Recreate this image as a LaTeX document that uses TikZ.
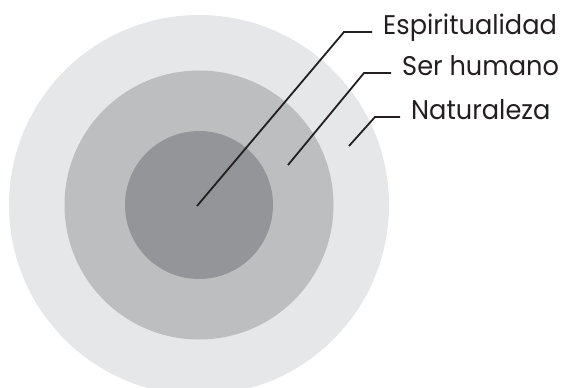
\documentclass[tikz,border=0pt]{standalone}
\usepackage{fontspec}
\setmainfont{Poppins}
\definecolor{anillo1}{HTML}{E6E7E8}
\definecolor{anillo2}{HTML}{BCBEC0}
\definecolor{anillo3}{HTML}{939598}
\definecolor{tinta}{HTML}{231F20}
% 文字稍微压窄一点
\newcommand{\angosto}[1]{\scalebox{0.95}[1]{#1}}
\begin{document}
\begin{tikzpicture}[x=1pt, y=-1pt]
    % 定义样式
    \tikzstyle{leader}=[tinta, line width=1.8pt]
    \tikzstyle{etiqueta}=[font=\fontsize{27}{30}\selectfont, text=tinta, anchor=mid west, inner xsep=11pt, inner ysep=0pt]

    % 画布大小
    \useasboundingbox (0,0) rectangle (565,388);
    \clip (0,0) rectangle (565,388);

    % 圆心
    \coordinate (O) at (199,205);

    % 三个同心圆，从外到内
    \fill[anillo1] (O) circle (190);
    \fill[anillo2] (O) circle (134.5);
    \fill[anillo3] (O) circle (74);

    % 标签
    \node[etiqueta] (espi) at (372,32) {\angosto{Espiritualidad}};
    \node[etiqueta] (ser) at (391,73) {\angosto{Ser humano}};
    \node[etiqueta] (nat) at (400,117) {\angosto{Naturaleza}};

    % 引线的起点和拐点
    \coordinate (espiA) at (197,206);
    \coordinate (espiB) at (344,32);
    \coordinate (serA) at (288,165);
    \coordinate (serB) at (364,73);
    \coordinate (natA) at (349,146);
    \coordinate (natB) at (375,117);

    % 引线
    \draw[leader] (espiA) -- (espiB) -- (espi.mid west);
    \draw[leader] (serA) -- (serB) -- (ser.mid west);
    \draw[leader] (natA) -- (natB) -- (nat.mid west);
\end{tikzpicture}
\end{document}
